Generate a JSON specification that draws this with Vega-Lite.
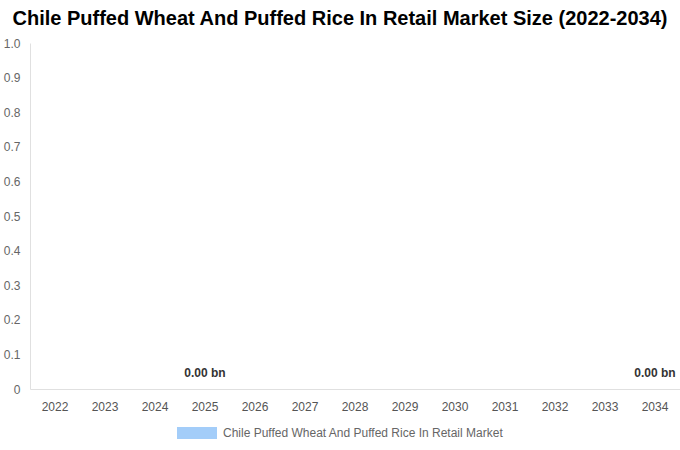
{
  "$schema": "https://vega.github.io/schema/vega-lite/v6.json",
  "width": 650,
  "height": 346,
  "autosize": {"type": "none"},
  "padding": {"left": 30, "top": 43, "right": 0, "bottom": 61},
  "background": "white",
  "config": {"view": {"stroke": null}, "font": "Liberation Sans"},
  "title": {
    "text": "Chile Puffed Wheat And Puffed Rice In Retail Market Size (2022-2034)",
    "font": "Liberation Sans",
    "fontSize": 20,
    "fontWeight": "bold",
    "color": "#000000",
    "anchor": "middle",
    "dx": -15,
    "offset": 8
  },
  "data": {
    "values": [
      {"year": "2022", "value": 0, "series": "Chile Puffed Wheat And Puffed Rice In Retail Market", "show": false},
      {"year": "2023", "value": 0, "series": "Chile Puffed Wheat And Puffed Rice In Retail Market", "show": false},
      {"year": "2024", "value": 0, "series": "Chile Puffed Wheat And Puffed Rice In Retail Market", "show": false},
      {"year": "2025", "value": 0, "series": "Chile Puffed Wheat And Puffed Rice In Retail Market", "show": true},
      {"year": "2026", "value": 0, "series": "Chile Puffed Wheat And Puffed Rice In Retail Market", "show": false},
      {"year": "2027", "value": 0, "series": "Chile Puffed Wheat And Puffed Rice In Retail Market", "show": false},
      {"year": "2028", "value": 0, "series": "Chile Puffed Wheat And Puffed Rice In Retail Market", "show": false},
      {"year": "2029", "value": 0, "series": "Chile Puffed Wheat And Puffed Rice In Retail Market", "show": false},
      {"year": "2030", "value": 0, "series": "Chile Puffed Wheat And Puffed Rice In Retail Market", "show": false},
      {"year": "2031", "value": 0, "series": "Chile Puffed Wheat And Puffed Rice In Retail Market", "show": false},
      {"year": "2032", "value": 0, "series": "Chile Puffed Wheat And Puffed Rice In Retail Market", "show": false},
      {"year": "2033", "value": 0, "series": "Chile Puffed Wheat And Puffed Rice In Retail Market", "show": false},
      {"year": "2034", "value": 0, "series": "Chile Puffed Wheat And Puffed Rice In Retail Market", "show": true}
    ]
  },
  "encoding": {
    "x": {
      "field": "year",
      "type": "ordinal",
      "title": null,
      "scale": {"paddingInner": 0.2, "paddingOuter": 0.1},
      "axis": {
        "labelAngle": 0,
        "labelColor": "#555555",
        "labelFontSize": 12,
        "labelPadding": 12,
        "ticks": false,
        "domainColor": "#e0e0e0",
        "grid": false
      }
    },
    "y": {
      "field": "value",
      "type": "quantitative",
      "title": null,
      "scale": {"domain": [0, 1]},
      "axis": {
        "values": [0, 0.1, 0.2, 0.3, 0.4, 0.5, 0.6, 0.7, 0.8, 0.9, 1.0],
        "labelExpr": "datum.value == 0 ? '0' : format(datum.value, '.1f')",
        "labelColor": "#666666",
        "labelFontSize": 12,
        "labelPadding": 10,
        "ticks": false,
        "grid": false,
        "domainColor": "#e0e0e0"
      }
    }
  },
  "layer": [
    {
      "mark": {"type": "bar", "color": "#a3cdf9"},
      "encoding": {
        "color": {
          "field": "series",
          "type": "nominal",
          "scale": {"range": ["#a3cdf9"]},
          "legend": {
            "title": null,
            "orient": "none",
            "legendX": 147,
            "legendY": 370,
            "symbolType": "M-1,-0.3L1,-0.3L1,0.3L-1,0.3Z",
            "symbolSize": 1600,
            "symbolStrokeWidth": 0,
            "labelColor": "#666666",
            "labelFontSize": 12,
            "labelOffset": 6,
            "labelLimit": 0
          }
        }
      }
    },
    {
      "transform": [{"filter": "datum.show"}],
      "mark": {
        "type": "text",
        "dy": -16,
        "fontSize": 12,
        "fontWeight": "bold",
        "color": "#333333"
      },
      "encoding": {
        "text": {"value": "0.00 bn"}
      }
    }
  ]
}
